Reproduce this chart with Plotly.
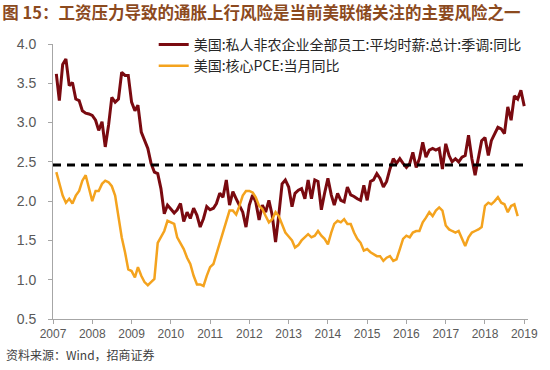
import pandas as pd
import plotly.graph_objects as go

# ---- data (monthly) ----
start_month = "2007-02-01"
wage_name = "美国:私人非农企业全部员工:平均时薪:总计:季调:同比"
pce_name = "美国:核心PCE:当月同比"

wage_yoy = [
    3.62, 3.28, 3.74, 3.81, 3.47, 3.51, 3.30, 3.28, 3.15, 3.12, 3.11, 3.09,
    3.03, 2.90, 3.01, 2.69, 2.97, 3.32, 3.26, 3.30, 3.64, 3.60, 3.60, 3.26,
    3.15, 3.22, 2.88, 2.77, 2.67, 2.48, 2.37, 2.35, 2.16, 1.84, 1.95,
    1.90, 1.85, 1.89, 1.97, 1.74, 1.86, 1.78, 1.91, 1.82, 1.67, 1.78, 1.93,
    1.89, 1.91, 1.97, 2.10, 2.05, 2.27, 1.95, 2.12, 2.03, 1.95, 1.86, 1.67,
    1.95, 2.08, 1.99, 1.76, 1.95, 1.86, 2.01, 1.82, 1.48, 1.82, 2.22, 2.27,
    2.18, 1.93, 2.10, 2.14, 2.16, 2.03, 2.27, 2.03, 2.27, 2.25, 1.89, 2.10,
    2.29, 2.08, 1.95, 2.10, 2.01, 1.99, 2.18, 2.08, 2.06, 2.03, 2.01, 2.20,
    2.01, 2.25, 2.27, 2.35, 2.29, 2.18, 2.25, 2.41,
    2.54, 2.48, 2.54, 2.48, 2.43, 2.48, 2.62, 2.43, 2.54, 2.75, 2.56, 2.65,
    2.67, 2.65, 2.67, 2.41, 2.73, 2.58, 2.50, 2.54, 2.50, 2.56, 2.58, 2.84,
    2.54, 2.33, 2.54, 2.77, 2.81, 2.58, 2.77, 2.86, 2.94, 2.92, 2.86, 3.20,
    3.03, 3.34, 3.30, 3.41, 3.21,
]

core_pce_yoy = [
    2.37, 2.22, 2.07, 1.98, 2.03, 1.97, 2.07, 2.13, 2.26, 2.33, 2.15, 2.00,
    2.13, 2.13, 2.22, 2.26, 2.24, 2.19, 2.07, 1.77, 1.54, 1.35, 1.13, 1.11,
    1.03, 1.16, 1.05, 0.97, 0.93, 0.97, 1.01, 1.47, 1.54, 1.62, 1.75,
    1.73, 1.71, 1.54, 1.47, 1.39, 1.28, 1.20, 1.05, 0.94, 0.94, 0.92, 1.05,
    1.16, 1.20, 1.33, 1.47, 1.62, 1.77, 1.88, 1.88, 1.83, 1.94, 2.07, 2.13,
    2.13, 2.11, 2.05, 1.94, 1.90, 1.81, 1.73, 1.77, 1.86,
    1.81, 1.69, 1.60, 1.55, 1.50, 1.41, 1.44, 1.50, 1.54, 1.58, 1.54, 1.56,
    1.62, 1.56, 1.52, 1.45, 1.60, 1.71, 1.75, 1.73, 1.77, 1.71, 1.71, 1.60,
    1.52, 1.47, 1.37, 1.39, 1.35, 1.33, 1.30, 1.30, 1.24, 1.28, 1.30, 1.24,
    1.26, 1.39, 1.52, 1.56, 1.54, 1.60, 1.62, 1.62, 1.73, 1.79, 1.86, 1.81,
    1.88, 1.92, 1.88, 1.69, 1.64, 1.62, 1.60, 1.62, 1.52, 1.43, 1.54, 1.60,
    1.62, 1.64, 1.67, 1.94, 1.98, 1.96, 2.00, 2.05, 1.98, 1.96, 1.86, 1.94,
    1.96, 1.81,
]

reference_level = 2.46
year_ticks = list(range(2007, 2020))

title_text = "图 15：工资压力导致的通胀上行风险是当前美联储关注的主要风险之一"
source_text = "资料来源：Wind，招商证券"

# ---- figure ----
wage_dates = pd.date_range(start_month, periods=len(wage_yoy), freq="MS")
pce_dates = pd.date_range(start_month, periods=len(core_pce_yoy), freq="MS")

fig = go.Figure()
fig.add_trace(go.Scatter(
    x=wage_dates, y=wage_yoy, mode="lines", name=wage_name,
    line=dict(color="#7A0A10", width=3),
))
fig.add_trace(go.Scatter(
    x=pce_dates, y=core_pce_yoy, mode="lines", name=pce_name,
    line=dict(color="#F4A31E", width=2.5),
))

fig.add_shape(
    type="line", xref="x domain", x0=0, x1=1, yref="y",
    y0=reference_level, y1=reference_level,
    line=dict(color="#000000", width=3, dash="8px,6px"),
)

axis_color = "#A6A6A6"

fig.update_xaxes(
    type="date",
    range=["2007-01-01", "2019-02-05"],
    tickvals=[f"{y}-01-01" for y in year_ticks],
    ticktext=[str(y) for y in year_ticks],
    showgrid=False, zeroline=False,
    showline=True, linecolor=axis_color, linewidth=1,
    ticks="outside", ticklen=4, tickcolor=axis_color,
    tickfont=dict(family="Liberation Sans, Arial, sans-serif", size=12, color="#595959"),
)
fig.update_yaxes(
    range=[0.5, 4.0], dtick=0.5, tick0=0.5, tickformat=".1f",
    showgrid=False, zeroline=False,
    showline=True, linecolor=axis_color, linewidth=1,
    ticks="outside", ticklen=4, tickcolor=axis_color,
    ticklabelstandoff=9,
    tickfont=dict(family="Liberation Sans, Arial, sans-serif", size=14, color="#595959"),
)

fig.update_layout(
    width=550, height=370,
    margin=dict(l=53, r=12, t=44, b=51),
    paper_bgcolor="white", plot_bgcolor="white",
    showlegend=True,
    legend=dict(
        x=0.212, y=1.055, xanchor="left", yanchor="top",
        bgcolor="rgba(0,0,0,0)", borderwidth=0,
        font=dict(family="Noto Sans CJK SC, sans-serif", size=14, color="#262626"),
        tracegroupgap=0, itemwidth=30,
    ),
    title=dict(
        text=title_text,
        x=0.004, xref="container", xanchor="left",
        y=0.965, yref="container", yanchor="middle",
        font=dict(family="Noto Sans CJK SC, sans-serif", size=16.5, color="#8C4A1E", weight="bold"),
    ),
    annotations=[dict(
        text=source_text, xref="paper", yref="paper",
        x=-0.103, y=-0.128, xanchor="left", yanchor="middle",
        showarrow=False,
        font=dict(family="Noto Sans CJK SC, sans-serif", size=12, color="#404040"),
    )],
)

fig.write_html(
    "out.html",
    config={"displayModeBar": False},
    post_script="document.body.style.margin='0';document.body.style.overflow='hidden';",
)
